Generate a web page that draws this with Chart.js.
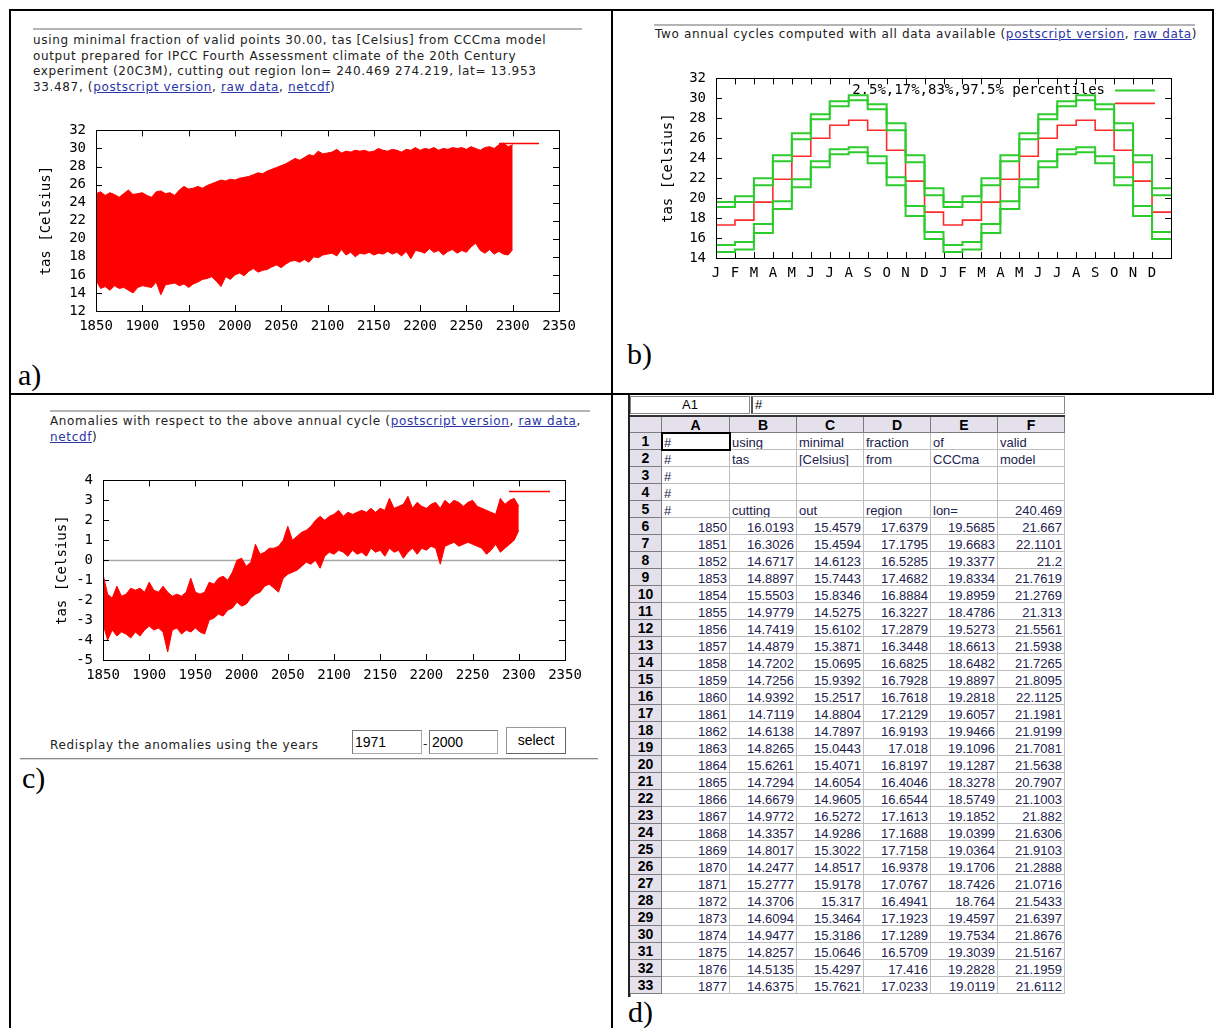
<!DOCTYPE html>
<html>
<head>
<meta charset="utf-8">
<script src="https://cdn.jsdelivr.net/npm/chart.js@4.4.0/dist/chart.umd.min.js"></script>
<style>
  html, body { margin: 0; padding: 0; background: #fff; }
  body { width: 1214px; height: 1028px; position: relative; overflow: hidden; }
  .ln { position: absolute; background: #000; }
  .rule { position: absolute; height: 2px; background: #b4b4b4; }
  .hdr { position: absolute; font-family: "DejaVu Sans", Verdana, sans-serif; font-size: 12px; letter-spacing: 0.65px; line-height: 15.5px; color: #222; white-space: nowrap; }
  .hdr a { color: #2a35a8; text-decoration: underline; }
  .lab { position: absolute; font-family: "Liberation Serif", "Times New Roman", serif; font-size: 30px; line-height: 30px; color: #000; }
  canvas { position: absolute; }
  .inp { position: absolute; box-sizing: border-box; border: 1px solid #aaa; border-top-color: #777; border-left-color: #777; font: 14px "Liberation Sans", Arial, sans-serif; padding: 2px 2px; line-height: 18px; color: #000; }
  .btn { position: absolute; box-sizing: border-box; border: 1px solid #999; border-right-color: #666; border-bottom-color: #666; background: #fff; font: 14px "Liberation Sans", Arial, sans-serif; text-align: center; line-height: 24px; }
  .cell { position: absolute; box-sizing: border-box; border-right: 1px solid #bdbdbd; border-bottom: 1px solid #bdbdbd; font: 13px "Liberation Sans", Arial, sans-serif; color: #22224e; line-height: 17px; padding: 1px 2px 0 2px; overflow: hidden; white-space: nowrap; }
  .hcell { position: absolute; box-sizing: border-box; background: #e4e0ec; border-right: 1px solid #7c7c7c; border-bottom: 1px solid #7c7c7c; font: bold 14px "Liberation Sans", Arial, sans-serif; color: #000; text-align: center; line-height: 16px; }
</style>
</head>
<body>

<!-- frame of the four panels -->
<div class="ln" style="left:9px;top:9px;width:1205px;height:2px"></div>
<div class="ln" style="left:9px;top:9px;width:2px;height:1019px"></div>
<div class="ln" style="left:611px;top:9px;width:2px;height:1019px"></div>
<div class="ln" style="left:1212px;top:9px;width:2px;height:385px"></div>
<div class="ln" style="left:9px;top:393px;width:1205px;height:2px"></div>

<!-- a) -->
<div class="rule" style="left:33px;top:28px;width:549px"></div>
<div class="hdr" style="left:33px;top:33px">using minimal fraction of valid points 30.00, tas [Celsius] from CCCma model<br>output prepared for IPCC Fourth Assessment climate of the 20th Century<br>experiment (20C3M), cutting out region lon= 240.469 274.219, lat= 13.953<br>33.487, (<a>postscript version</a>, <a>raw data</a>, <a>netcdf</a>)</div>
<canvas id="chartA" width="560" height="232" style="left:30px;top:112px"></canvas>
<div class="lab" style="left:18px;top:360px">a)</div>

<!-- b) -->
<div class="rule" style="left:654px;top:24px;width:541px"></div>
<div class="hdr" style="left:655px;top:27px">Two annual cycles computed with all data available (<a>postscript version</a>, <a>raw data</a>)</div>
<canvas id="chartB" width="545" height="232" style="left:650px;top:60px"></canvas>
<div class="lab" style="left:627px;top:339px">b)</div>

<!-- c) -->
<div class="rule" style="left:50px;top:410px;width:540px"></div>
<div class="hdr" style="left:50px;top:414px">Anomalies with respect to the above annual cycle (<a>postscript version</a>, <a>raw data</a>,<br><a>netcdf</a>)</div>
<canvas id="chartC" width="556" height="232" style="left:36px;top:462px"></canvas>
<div class="hdr" style="left:50px;top:738px">Redisplay the anomalies using the years</div>
<div class="inp" style="left:352px;top:730px;width:70px;height:24px">1971</div>
<div class="hdr" style="left:423px;top:737px">-</div>
<div class="inp" style="left:429px;top:730px;width:69px;height:24px">2000</div>
<div class="btn" style="left:506px;top:727px;width:60px;height:27px">select</div>
<div style="position:absolute;left:20px;top:758px;width:578px;height:1px;background:#8a8a8a;border-bottom:1px solid #d8d8d8"></div>
<div class="lab" style="left:22px;top:763px">c)</div>

<!-- d) -->
<div id="sheet"></div>
<div class="lab" style="left:628px;top:997px">d)</div>

<script>
// ---- panel a / c : monthly series, read as 5-year envelopes (upper / lower) ----
const years = Array.from({ length: 91 }, (_, i) => 1850 + 5 * i);

const tasTop = [
  25.0, 25.2, 24.8, 25.1, 24.9, 24.6, 25.0, 25.4, 24.9, 25.0,
  25.1, 24.8, 24.6, 25.2, 25.3, 25.0, 25.1, 24.8, 25.4, 25.8,
  25.5, 25.6, 25.8, 25.6, 25.9, 26.1, 26.3, 26.5, 26.4, 26.6,
  26.5, 26.7, 26.8, 26.9, 27.1, 27.3, 27.2, 27.5, 27.7, 27.9,
  28.1, 28.3, 28.6, 28.9, 28.7, 29.0, 29.3, 29.2, 29.7, 29.4,
  29.5, 29.6, 29.9, 29.5, 29.7, 29.6, 29.8, 29.7, 29.8, 29.6,
  29.7, 30.0, 29.8, 29.7, 29.9, 29.8, 29.6, 29.9, 29.8, 30.1,
  29.8, 30.0, 29.9, 30.1, 29.8, 30.0, 29.9, 30.1, 30.0, 30.1,
  29.9, 30.2, 30.0, 29.8, 30.1, 30.2, 30.0, 30.4, 30.6, 30.2,
  30.4
];
const tasBottom = [
  15.4, 14.5, 14.7, 14.3, 14.8, 14.5, 14.6, 14.3, 14.0, 14.6,
  14.8, 14.7, 14.6, 15.2, 13.8, 14.9, 15.0, 15.1, 14.8, 15.0,
  14.6, 15.0, 15.2, 15.5, 15.6, 15.8, 15.3, 14.7, 15.8, 15.5,
  16.0, 16.2, 15.9, 16.4, 16.7, 16.3, 16.5, 16.6, 16.9, 17.1,
  16.8, 17.2, 17.5, 17.6, 17.4, 17.7, 17.4, 18.0, 17.9, 18.2,
  18.3, 18.4, 18.1, 18.8, 18.2, 18.5, 18.0, 18.4, 18.3, 18.5,
  18.2, 18.4, 18.3, 18.6, 18.3, 18.5, 18.1, 18.6, 17.8, 18.7,
  18.6, 18.4, 18.9, 18.5, 18.7, 18.2, 18.6, 18.8, 18.4, 18.7,
  18.5, 19.1, 19.5, 18.7, 18.4, 18.8, 18.3, 18.6, 18.3, 18.2,
  18.8
];

const anomTop = [
  -0.7, -1.7, -1.9, -1.3, -1.8, -1.7, -1.4, -1.5, -1.4, -1.6,
  -1.1, -1.5, -1.6, -1.3, -1.6, -1.8, -1.7, -1.8, -1.6, -0.9,
  -1.6, -1.7, -1.6, -1.1, -1.2, -0.9, -0.8, -1.0, -0.6, 0.0,
  0.1, -0.3, -0.1, 0.8, 0.3, 0.4, 0.6, 0.6, 0.7, 1.0,
  1.7, 1.0, 1.2, 1.4, 1.5, 1.7, 2.0, 2.2, 2.0, 2.2,
  2.3, 2.5, 2.2, 2.4, 2.3, 2.4, 2.5, 2.4, 2.6, 2.4,
  2.6, 2.5, 3.1, 2.6, 2.7, 2.8, 3.2, 2.6, 2.9, 2.7,
  2.6, 2.8, 2.9, 2.6, 3.0, 2.8, 3.0, 2.9, 2.7, 2.9,
  3.0, 2.7, 2.6, 2.5, 2.4, 2.3, 3.1, 2.8, 3.0, 3.1,
  2.7
];
const anomBottom = [
  -3.2, -4.0, -3.5, -3.8, -3.6, -3.7, -3.9, -3.6, -3.8, -3.5,
  -3.3, -3.5, -3.4, -3.6, -4.6, -3.5, -3.4, -3.7, -3.5, -3.6,
  -3.4, -3.6, -3.7, -3.0, -2.9, -2.7, -2.8, -2.5, -2.4, -2.1,
  -2.3, -2.2, -1.9, -1.7, -1.6, -1.3, -1.2, -1.4, -1.6, -0.9,
  -0.7, -0.6, -0.5, -0.3, -0.1, -0.2, 0.0, -0.4, 0.2, 0.4,
  0.3, 0.5, 0.4, 0.2, 0.5, 0.3, 0.4, 0.2, 0.6, 0.4,
  0.5, 0.2, 0.6, 0.4, 0.5, 0.1, 0.4, 0.6, 0.3, 0.6,
  0.5, 0.7, 0.6, -0.2, 0.7, 0.8, 0.9, 0.7, 0.8, 0.9,
  0.8, 0.7, 0.6, 0.3, 0.5, 0.8, 0.4, 0.6, 0.8, 1.0,
  1.5
];

// ---- panel b : annual cycle percentiles ----
const monthLetters = ['J', 'F', 'M', 'A', 'M', 'J', 'J', 'A', 'S', 'O', 'N', 'D'];
const p975 = [19.6, 20.2, 22.0, 24.3, 26.5, 28.4, 29.7, 30.3, 29.4, 27.5, 24.3, 21.0];
const p83 = [19.1, 19.6, 21.3, 23.7, 25.9, 27.9, 29.2, 29.8, 28.9, 26.8, 23.6, 20.3];
const p50 = [17.3, 17.8, 19.6, 21.9, 24.2, 26.0, 27.3, 27.8, 26.8, 24.8, 21.7, 18.6];
const p17 = [15.3, 15.6, 17.4, 19.7, 21.9, 23.7, 24.9, 25.1, 24.2, 22.1, 19.2, 16.6];
const p025 = [14.6, 14.85, 16.5, 18.9, 21.1, 23.1, 24.4, 24.6, 23.5, 21.3, 18.2, 15.9];

// ---- panel d : raw data sheet ----
const sheetCols = ['A', 'B', 'C', 'D', 'E', 'F'];
const sheetHead = [
  ['#', 'using', 'minimal', 'fraction', 'of', 'valid'],
  ['#', 'tas', '[Celsius]', 'from', 'CCCma', 'model'],
  ['#', '', '', '', '', ''],
  ['#', '', '', '', '', ''],
  ['#', 'cutting', 'out', 'region', 'lon=', 240.469]
];
const sheetYears = [1850, 1851, 1852, 1853, 1854, 1855, 1856, 1857, 1858, 1859, 1860, 1861, 1862, 1863,
  1864, 1865, 1866, 1867, 1868, 1869, 1870, 1871, 1872, 1873, 1874, 1875, 1876, 1877];
const janVals = [16.0193, 16.3026, 14.6717, 14.8897, 15.5503, 14.9779, 14.7419, 14.4879, 14.7202, 14.7256,
  14.9392, 14.7119, 14.6138, 14.8265, 15.6261, 14.7294, 14.6679, 14.9772, 14.3357, 14.8017,
  14.2477, 15.2777, 14.3706, 14.6094, 14.9477, 14.8257, 14.5135, 14.6375];
const febVals = [15.4579, 15.4594, 14.6123, 15.7443, 15.8346, 14.5275, 15.6102, 15.3871, 15.0695, 15.9392,
  15.2517, 14.8804, 14.7897, 15.0443, 15.4071, 14.6054, 14.9605, 16.5272, 14.9286, 15.3022,
  14.8517, 15.9178, 15.317, 15.3464, 15.3186, 15.0646, 15.4297, 15.7621];
const marVals = [17.6379, 17.1795, 16.5285, 17.4682, 16.8884, 16.3227, 17.2879, 16.3448, 16.6825, 16.7928,
  16.7618, 17.2129, 16.9193, 17.018, 16.8197, 16.4046, 16.6544, 17.1613, 17.1688, 17.7158,
  16.9378, 17.0767, 16.4941, 17.1923, 17.1289, 16.5709, 17.416, 17.0233];
const aprVals = [19.5685, 19.6683, 19.3377, 19.8334, 19.8959, 18.4786, 19.5273, 18.6613, 18.6482, 19.8897,
  19.2818, 19.6057, 19.9466, 19.1096, 19.1287, 18.3278, 18.5749, 19.1852, 19.0399, 19.0364,
  19.1706, 18.7426, 18.764, 19.4597, 19.7534, 19.3039, 19.2828, 19.0119];
const mayVals = [21.667, 22.1101, 21.2, 21.7619, 21.2769, 21.313, 21.5561, 21.5938, 21.7265, 21.8095,
  22.1125, 21.1981, 21.9199, 21.7081, 21.5638, 20.7907, 21.1003, 21.882, 21.6306, 21.9103,
  21.2888, 21.0716, 21.5433, 21.6397, 21.8676, 21.5167, 21.1959, 21.6112];

const MONO = '"DejaVu Sans Mono", monospace';

// gnuplot-like box: inward ticks on all sides, key samples, rotated y title
const gnuFrame = {
  id: 'gnuFrame',
  beforeDatasetsDraw(chart, args, o) {
    const { ctx, chartArea: a } = chart;
    const sx = chart.scales.x, sy = chart.scales.y;
    ctx.save();
    if (o.zeroLine) {
      const y0 = Math.round(sy.getPixelForValue(0)) + 0.5;
      ctx.strokeStyle = '#a8a8a8';
      ctx.lineWidth = 1.5;
      ctx.beginPath(); ctx.moveTo(a.left, y0); ctx.lineTo(a.right, y0); ctx.stroke();
    }
    ctx.strokeStyle = '#000';
    ctx.lineWidth = 1;
    ctx.beginPath();
    sx.ticks.forEach(t => {
      const px = Math.round(sx.getPixelForValue(t.value)) + 0.5;
      ctx.moveTo(px, a.bottom); ctx.lineTo(px, a.bottom - o.tick);
      ctx.moveTo(px, a.top); ctx.lineTo(px, a.top + o.tick);
    });
    sy.ticks.forEach(t => {
      const py = Math.round(sy.getPixelForValue(t.value)) + 0.5;
      ctx.moveTo(a.left, py); ctx.lineTo(a.left + o.tick, py);
      ctx.moveTo(a.right, py); ctx.lineTo(a.right - o.tick, py);
    });
    ctx.stroke();
    ctx.restore();
  },
  afterDraw(chart, args, o) {
    const { ctx, chartArea: a } = chart;
    ctx.save();
    ctx.strokeStyle = '#000';
    ctx.lineWidth = 1;
    ctx.strokeRect(Math.round(a.left) + 0.5, Math.round(a.top) + 0.5, Math.round(a.width), Math.round(a.height));

    (o.keys || []).forEach(k => {
      ctx.strokeStyle = k.color;
      ctx.lineWidth = k.width;
      ctx.beginPath();
      ctx.moveTo(a.right - k.from, a.top + k.dy);
      ctx.lineTo(a.right - k.to, a.top + k.dy);
      ctx.stroke();
      if (k.text) {
        ctx.fillStyle = '#000';
        ctx.font = '14px ' + MONO;
        ctx.textAlign = 'right';
        ctx.textBaseline = 'middle';
        ctx.fillText(k.text, a.right - k.from - 10, a.top + k.dy);
      }
    });

    ctx.translate(a.left - o.titleOff, (a.top + a.bottom) / 2);
    ctx.rotate(-Math.PI / 2);
    ctx.font = '14px ' + MONO;
    ctx.fillStyle = '#000';
    ctx.textAlign = 'center';
    ctx.textBaseline = 'middle';
    ctx.fillText('tas [Celsius]', 0, 0);
    ctx.restore();
  }
};

function gnuChart(id, datasets, o) {
  const tickFont = { family: MONO, size: 14 };
  return new Chart(document.getElementById(id), {
    type: 'line',
    data: { datasets: datasets },
    plugins: [gnuFrame],
    options: {
      responsive: false,
      animation: false,
      devicePixelRatio: 1,
      layout: { padding: { top: o.padTop, right: o.padRight, left: 0, bottom: 0 } },
      elements: { point: { radius: 0 }, line: { tension: 0 } },
      plugins: {
        legend: { display: false },
        tooltip: { enabled: false },
        gnuFrame: o.frame
      },
      scales: {
        x: {
          type: 'linear', min: o.xMin, max: o.xMax,
          grid: { display: false, drawTicks: false },
          border: { display: false },
          ticks: { stepSize: o.xStep, autoSkip: false, maxRotation: 0, padding: 7, color: '#000', font: tickFont, callback: o.xLabel },
          afterFit: s => { s.height = o.xH; }
        },
        y: {
          min: o.yMin, max: o.yMax,
          grid: { display: false, drawTicks: false },
          border: { display: false },
          ticks: { stepSize: o.yStep, autoSkip: false, padding: 10, color: '#000', font: tickFont, callback: v => String(v) },
          afterFit: s => { s.width = o.yW; }
        }
      }
    }
  });
}

function band(top, bottom, color) {
  return [
    { data: years.map((yr, i) => ({ x: yr, y: top[i] })), borderColor: color, backgroundColor: color, borderWidth: 1, fill: '+1' },
    { data: years.map((yr, i) => ({ x: yr, y: bottom[i] })), borderColor: color, borderWidth: 1, fill: false }
  ];
}

// a) absolute temperature
gnuChart('chartA', band(tasTop, tasBottom, '#ff0000'), {
  padTop: 10, padRight: 31, yW: 66, xH: 33,
  xMin: 1850, xMax: 2350, xStep: 50, xLabel: v => String(v),
  yMin: 12, yMax: 32, yStep: 2,
  frame: { tick: 6, titleOff: 50, keys: [{ color: '#ff0000', width: 1.5, from: 60, to: 20, dy: 13 }] }
});

// b) two annual cycles as steps
function cycle(vals) {
  const pts = [];
  for (let m = 0; m < 24; m++) pts.push({ x: m, y: vals[m % 12] });
  pts.push({ x: 24, y: vals[11] });
  return pts;
}
const green = '#2ccc2c';
const red = '#ff2a2a';
const stepSet = (vals, color, w) => ({ data: cycle(vals), borderColor: color, borderWidth: w, stepped: true, fill: false });

gnuChart('chartB', [
  stepSet(p975, green, 2), stepSet(p83, green, 2), stepSet(p17, green, 2), stepSet(p025, green, 2), stepSet(p50, red, 1.6)
], {
  padTop: 11, padRight: 24, yW: 66, xH: 34,
  xMin: 0, xMax: 24, xStep: 1, xLabel: v => (v < 24 ? monthLetters[v % 12] : ''),
  yMin: 14, yMax: 32, yStep: 2,
  frame: {
    tick: 6, titleOff: 48,
    keys: [
      { color: green, width: 2, from: 56, to: 16, dy: 12, text: '2.5%,17%,83%,97.5% percentiles' },
      { color: red, width: 1.6, from: 56, to: 16, dy: 25 }
    ]
  }
});

// c) anomalies
gnuChart('chartC', band(anomTop, anomBottom, '#ff0000'), {
  padTop: 11, padRight: 27, yW: 67, xH: 34,
  xMin: 1850, xMax: 2350, xStep: 50, xLabel: v => String(v),
  yMin: -5, yMax: 4, yStep: 1,
  frame: { tick: 6, titleOff: 41, zeroLine: true, keys: [{ color: '#ff0000', width: 1.5, from: 56, to: 15, dy: 11 }] }
});

// d) spreadsheet view of the raw data
(function buildSheet() {
  const sheet = document.getElementById('sheet');
  const colX = [630, 662, 730, 797, 864, 931, 998, 1065];
  const top0 = 417, headH = 16, rowH = 17;
  let html = '';
  // frame line, name box, formula bar
  html += '<div style="position:absolute;left:628px;top:395px;width:2px;height:602px;background:#222"></div>';
  html += '<div style="position:absolute;left:630px;top:396px;width:120px;height:18px;box-sizing:border-box;border:1px solid #888;font:13px \'Liberation Sans\',Arial;text-align:center;line-height:16px">A1</div>';
  html += '<div style="position:absolute;left:751px;top:396px;width:314px;height:18px;box-sizing:border-box;border:1px solid #888;border-left:2px solid #555;font:13px \'Liberation Sans\',Arial;padding-left:2px;line-height:16px">#</div>';
  html += '<div style="position:absolute;left:630px;top:415px;width:435px;height:2px;background:#333"></div>';
  // column headers
  html += `<div class="hcell" style="left:630px;top:${top0}px;width:32px;height:${headH}px"></div>`;
  sheetCols.forEach((c, j) => {
    html += `<div class="hcell" style="left:${colX[j + 1]}px;top:${top0}px;width:${colX[j + 2] - colX[j + 1]}px;height:${headH}px">${c}</div>`;
  });
  const rows = sheetHead.slice();
  sheetYears.forEach((yr, i) => rows.push([yr, janVals[i], febVals[i], marVals[i], aprVals[i], mayVals[i]]));
  rows.forEach((r, i) => {
    const y = top0 + headH + i * rowH;
    html += `<div class="hcell" style="left:630px;top:${y}px;width:32px;height:${rowH}px;line-height:17px">${i + 1}</div>`;
    r.forEach((v, j) => {
      const num = typeof v === 'number';
      html += `<div class="cell" style="left:${colX[j + 1]}px;top:${y}px;width:${colX[j + 2] - colX[j + 1]}px;height:${rowH}px;text-align:${num ? 'right' : 'left'}">${v}</div>`;
    });
  });
  // next (cut) row
  const yEnd = top0 + headH + rows.length * rowH;
  html += `<div style="position:absolute;left:630px;top:${yEnd}px;width:435px;height:3px;border-left:1px solid #888;"></div>`;
  // selected cell A1
  html += `<div style="position:absolute;left:661px;top:${top0 + headH - 1}px;width:70px;height:19px;box-sizing:border-box;border:2px solid #000"></div>`;
  sheet.innerHTML = html;
})();
</script>
</body>
</html>
